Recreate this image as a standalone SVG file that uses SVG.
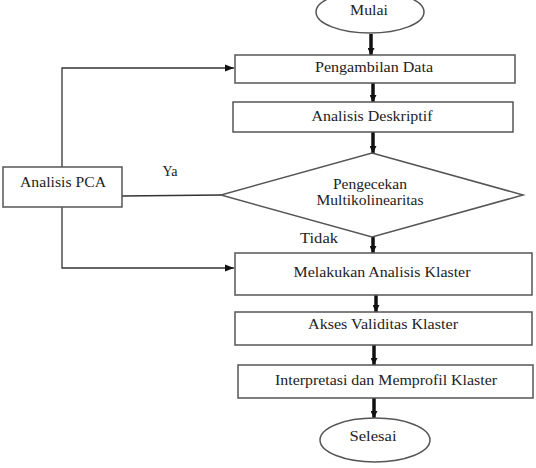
<svg xmlns="http://www.w3.org/2000/svg" width="536" height="468" viewBox="0 0 536 468">
<style>
.box{fill:#fff;stroke:#555;stroke-width:1.5}
.t{font-family:'Liberation Serif','Times New Roman',serif;font-size:14px;fill:#222;text-anchor:middle}
.thin{fill:none;stroke:#333;stroke-width:1.3}
.thick{fill:none;stroke:#111;stroke-width:3.5}
</style>
<defs>
<marker id="ah" viewBox="0 0 10 10" refX="10" refY="5" markerWidth="9" markerHeight="9" markerUnits="userSpaceOnUse" orient="auto">
<path d="M0,1 L10,5 L0,9 z" fill="#111"/>
</marker>
<marker id="ahs" viewBox="0 0 10 10" refX="10" refY="5" markerWidth="2" markerHeight="2" orient="auto">
<path d="M0,0 L10,5 L0,10 z" fill="#111"/>
</marker>
</defs>
<rect width="536" height="468" fill="#fff"/>
<g id="connectors">
<line class="thick" x1="371" y1="34" x2="371" y2="55" marker-end="url(#ahs)"/>
<line class="thick" x1="373" y1="83" x2="373" y2="102" marker-end="url(#ahs)"/>
<line class="thick" x1="373" y1="132" x2="373" y2="153" marker-end="url(#ahs)"/>
<line class="thick" x1="373" y1="237" x2="373" y2="253" marker-end="url(#ahs)"/>
<line class="thick" x1="376" y1="295" x2="376" y2="312" marker-end="url(#ahs)"/>
<line class="thick" x1="374" y1="345" x2="374" y2="365" marker-end="url(#ahs)"/>
<line class="thick" x1="374" y1="398" x2="374" y2="418" marker-end="url(#ahs)"/>
<polyline class="thin" points="62,167 62,68 234,68" marker-end="url(#ah)"/>
<line class="thin" x1="122" y1="196" x2="221" y2="195"/>
<polyline class="thin" points="62,207 62,268 234,268" marker-end="url(#ah)"/>
<text class="t" x="170" y="176">Ya</text>
<text class="t" x="319" y="243" textLength="38" lengthAdjust="spacingAndGlyphs">Tidak</text>
</g>
<g id="mulai">
<ellipse class="box" cx="370" cy="12" rx="54" ry="21"/>
<text class="t" x="369" y="15" textLength="38" lengthAdjust="spacingAndGlyphs">Mulai</text>
</g>
<g id="pengambilan">
<rect class="box" x="235" y="55" width="280" height="28"/>
<text class="t" x="374" y="72" textLength="118" lengthAdjust="spacingAndGlyphs">Pengambilan Data</text>
</g>
<g id="deskriptif">
<rect class="box" x="233" y="102" width="280" height="30"/>
<text class="t" x="372" y="121" textLength="121" lengthAdjust="spacingAndGlyphs">Analisis Deskriptif</text>
</g>
<g id="pengecekan">
<polygon class="box" points="372,153 523,195 372,237 221,195"/>
<text class="t" x="370" y="189" textLength="74" lengthAdjust="spacingAndGlyphs">Pengecekan</text>
<text class="t" x="370" y="205" textLength="107" lengthAdjust="spacingAndGlyphs">Multikolinearitas</text>
</g>
<g id="pca">
<rect class="box" x="3" y="167" width="119" height="40"/>
<text class="t" x="63" y="187" textLength="86" lengthAdjust="spacingAndGlyphs">Analisis PCA</text>
</g>
<g id="klaster">
<rect class="box" x="235" y="253" width="297" height="42"/>
<text class="t" x="382" y="277" textLength="177" lengthAdjust="spacingAndGlyphs">Melakukan Analisis Klaster</text>
</g>
<g id="validitas">
<rect class="box" x="235" y="312" width="297" height="33"/>
<text class="t" x="383" y="329" textLength="150" lengthAdjust="spacingAndGlyphs">Akses Validitas Klaster</text>
</g>
<g id="interpretasi">
<rect class="box" x="238" y="365" width="295" height="33"/>
<text class="t" x="386" y="385" textLength="222" lengthAdjust="spacingAndGlyphs">Interpretasi dan Memprofil Klaster</text>
</g>
<g id="selesai">
<ellipse class="box" cx="375" cy="440" rx="55" ry="22"/>
<text class="t" x="373" y="441" textLength="47" lengthAdjust="spacingAndGlyphs">Selesai</text>
</g>
</svg>
